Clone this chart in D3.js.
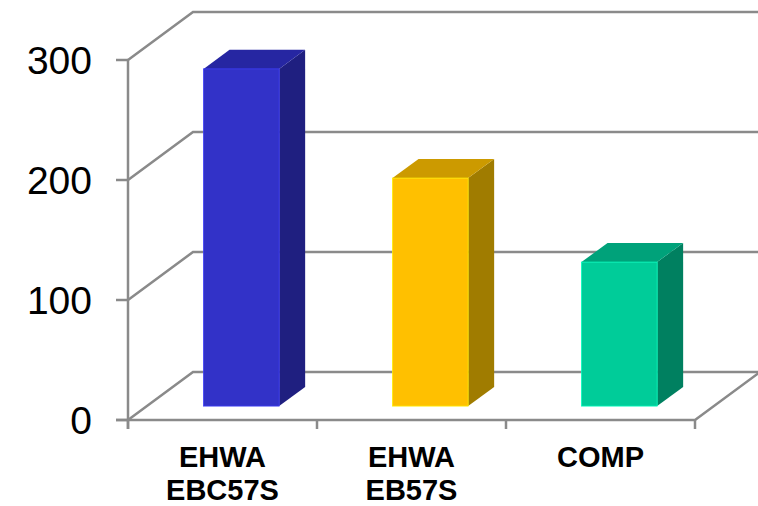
<!DOCTYPE html>
<html lang="en">
<head>
    <meta charset="UTF-8">
    <title>3D Bar Chart</title>
    <script src="https://d3js.org/d3.v7.min.js"></script>
    <style>
        body { margin: 0; background: #fff; }
        svg { display: block; font-family: Arial, "Liberation Sans", sans-serif; }
        .grid { stroke: #8a8a8a; stroke-width: 2.5; fill: none; }
    </style>
</head>
<body>
    <svg width="758" height="506"></svg>

    <script>
        const categories = ['EHWA\nEBC57S', 'EHWA\nEB57S', 'COMP'];
        const values = [281, 190, 120];
        const yTicks = [0, 100, 200, 300];
        const frontColors = ['#3232c8', '#ffc000', '#00cc99'];
        const topColors = ['#2626a2', '#cc9a00', '#00a27a'];
        const sideColors = ['#1f1f80', '#a07c00', '#008060'];

        const svg = d3.select('svg');

        // wall depth offset and bar placement inside it
        const depth = { dx: 65, dy: -48 };
        const barFront = 0.29, barBack = 0.69;

        const xScale = d3.scaleBand()
            .domain(categories)
            .range([128, 695]);

        const yScale = d3.scaleLinear()
            .domain([0, 300])
            .range([420, 60]);

        const barW = xScale.bandwidth() * 0.4;

        // back wall gridlines and left wall diagonals
        yTicks.forEach(t => {
            const y = yScale(t);
            svg.append('path')
                .attr('class', 'grid')
                .attr('d', `M128,${y}L${128 + depth.dx},${y + depth.dy}L${760},${y + depth.dy}`);
        });

        // floor edges
        const y0 = yScale(0);
        svg.append('path')
            .attr('class', 'grid')
            .attr('d', `M116,${y0}L695,${y0}L${695 + depth.dx},${y0 + depth.dy}`);

        // front vertical axis with tick marks
        svg.append('line')
            .attr('class', 'grid')
            .attr('x1', 128).attr('x2', 128)
            .attr('y1', yScale(300)).attr('y2', y0 + 9);

        svg.selectAll('.ytick')
            .data(yTicks)
            .enter().append('line')
            .attr('class', 'grid')
            .attr('x1', 116).attr('x2', 128)
            .attr('y1', d => yScale(d)).attr('y2', d => yScale(d));

        const xEdges = categories.map(c => xScale(c)).concat([xScale.range()[1]]);
        svg.selectAll('.xtick')
            .data(xEdges)
            .enter().append('line')
            .attr('class', 'grid')
            .attr('x1', d => d).attr('x2', d => d)
            .attr('y1', y0).attr('y2', y0 + 9);

        // y labels
        svg.selectAll('.ylabel')
            .data(yTicks)
            .enter().append('text')
            .attr('x', 92)
            .attr('y', d => yScale(d))
            .attr('dy', '0.36em')
            .attr('text-anchor', 'end')
            .style('font-size', '39px')
            .text(d => d);

        // bars
        values.forEach((v, i) => {
            const c = categories[i];
            const x = xScale(c) + (xScale.bandwidth() - barW) / 2 + depth.dx * barFront;
            const yb = y0 + depth.dy * barFront;
            const yt = yScale(v) + depth.dy * barFront;
            const ddx = depth.dx * (barBack - barFront);
            const ddy = depth.dy * (barBack - barFront);

            svg.append('path')
                .attr('fill', sideColors[i])
                .attr('d', `M${x + barW},${yt}L${x + barW + ddx},${yt + ddy}L${x + barW + ddx},${yb + ddy}L${x + barW},${yb}Z`);
            svg.append('path')
                .attr('fill', topColors[i])
                .attr('d', `M${x},${yt}L${x + ddx},${yt + ddy}L${x + barW + ddx},${yt + ddy}L${x + barW},${yt}Z`);
            svg.append('rect')
                .attr('fill', frontColors[i])
                .attr('stroke', d3.color(frontColors[i]).brighter(0.6))
                .attr('stroke-width', 0.8)
                .attr('x', x).attr('y', yt)
                .attr('width', barW).attr('height', yb - yt);
        });

        // category labels
        categories.forEach(c => {
            const t = svg.append('text')
                .attr('x', xScale(c) + xScale.bandwidth() / 2)
                .attr('y', 467)
                .attr('text-anchor', 'middle')
                .style('font-size', '29px')
                .style('font-weight', 'bold');
            c.split('\n').forEach((line, k) => {
                t.append('tspan')
                    .attr('x', xScale(c) + xScale.bandwidth() / 2)
                    .attr('dy', k === 0 ? 0 : 33)
                    .text(line);
            });
        });
    </script>
</body>
</html>
